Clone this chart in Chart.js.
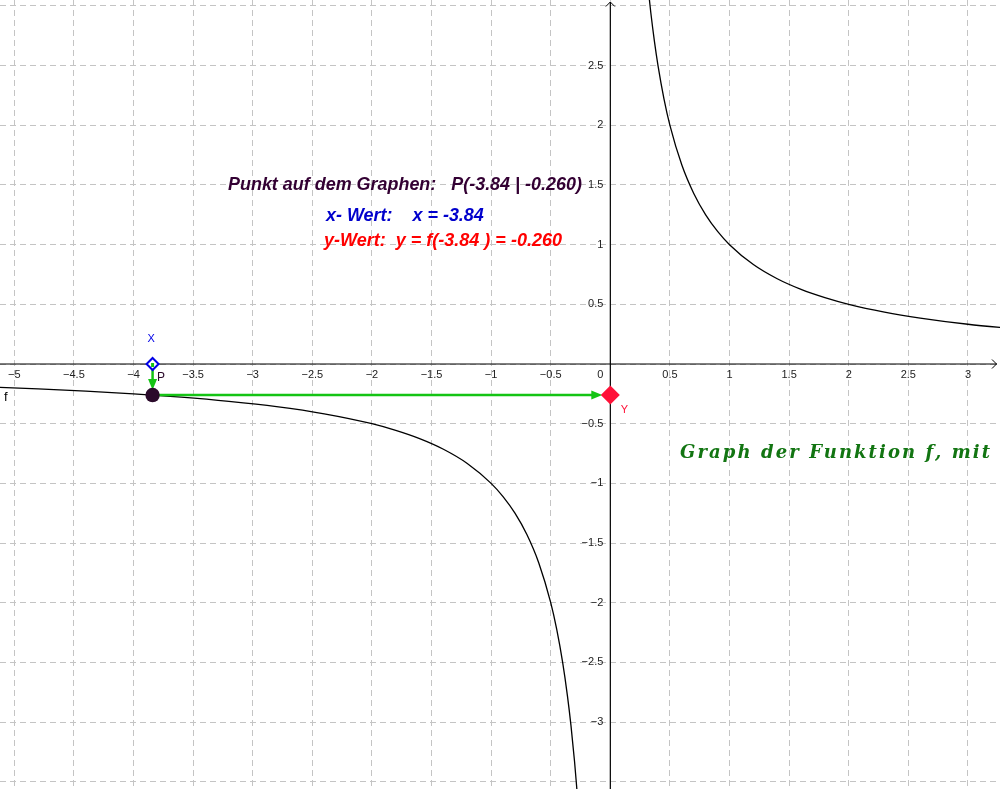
<!DOCTYPE html>
<html>
<head>
<meta charset="utf-8">
<script src="https://cdn.jsdelivr.net/npm/chart.js@4.4.1/dist/chart.umd.min.js"></script>
<style>
  html, body { margin: 0; padding: 0; background: #fff; overflow: hidden; }
  #wrap { width: 1000px; height: 789px; }
</style>
</head>
<body>
<div id="wrap"><canvas id="c" width="1000" height="789"></canvas></div>
<script>
// ---- view window ----
const xRange = [-5.120, 3.269];
const yRange = [-3.561, 3.050];

// ---- grid / tick values ----
const xTicks = [-5, -4.5, -4, -3.5, -3, -2.5, -2, -1.5, -1, -0.5, 0, 0.5, 1, 1.5, 2, 2.5, 3];
const yTicks = [-3.5, -3, -2.5, -2, -1.5, -1, -0.5, 0, 0.5, 1, 1.5, 2, 2.5, 3];
const xLabelValues = [-5, -4.5, -4, -3.5, -3, -2.5, -2, -1.5, -1, -0.5, 0.5, 1, 1.5, 2, 2.5, 3];
const xLabelTexts  = ['\u22125', '\u22124.5', '\u22124', '\u22123.5', '\u22123', '\u22122.5', '\u22122', '\u22121.5', '\u22121', '\u22120.5', '0.5', '1', '1.5', '2', '2.5', '3'];
const yLabelValues = [2.5, 2, 1.5, 1, 0.5, -0.5, -1, -1.5, -2, -2.5, -3];
const yLabelTexts  = ['2.5', '2', '1.5', '1', '0.5', '\u22120.5', '\u22121', '\u22121.5', '\u22122', '\u22122.5', '\u22123'];

// ---- graph f ----
const leftX  = [-5.2, -4.8, -4.4, -4.0, -3.6, -3.2, -2.8, -2.4, -2.0, -1.8, -1.6, -1.4, -1.2, -1.0, -0.9, -0.8, -0.7, -0.6, -0.5, -0.45, -0.4, -0.36, -0.33, -0.3, -0.28];
const leftY  = [-0.192, -0.208, -0.227, -0.25, -0.278, -0.313, -0.357, -0.417, -0.5, -0.556, -0.625, -0.714, -0.833, -1.0, -1.111, -1.25, -1.429, -1.667, -2.0, -2.222, -2.5, -2.778, -3.03, -3.333, -3.571];
const rightX = [0.32, 0.34, 0.37, 0.4, 0.45, 0.5, 0.6, 0.7, 0.8, 0.9, 1.0, 1.2, 1.4, 1.6, 1.8, 2.0, 2.3, 2.6, 3.0, 3.4];
const rightY = [3.125, 2.941, 2.703, 2.5, 2.222, 2.0, 1.667, 1.429, 1.25, 1.111, 1.0, 0.833, 0.714, 0.625, 0.556, 0.5, 0.435, 0.385, 0.333, 0.294];

// ---- point P on the graph ----
const pointX = -3.84;
const pointY = -0.260;

const texts = {
  title: 'Punkt auf dem Graphen:   P(-3.84 | -0.260)',
  xLine: 'x- Wert:    x = -3.84',
  yLine: 'y-Wert:  y = f(-3.84 ) = -0.260',
  green: 'Graph der Funktion f, mit'
};

function toPts(xs, ys) { return xs.map((x, i) => ({ x: x, y: ys[i] })); }

function drawFit(ctx, text, x, yc, targetW, style, family, color) {
  ctx.font = style + ' 100px ' + family;
  const w = ctx.measureText(text).width;
  const size = 100 * targetW / w;
  ctx.font = style + ' ' + size.toFixed(2) + 'px ' + family;
  ctx.fillStyle = color;
  ctx.textAlign = 'left';
  ctx.textBaseline = 'middle';
  ctx.fillText(text, x, yc);
}

function arrowHead(ctx, tipX, tipY, dx, dy, len, half, color) {
  const bx = tipX - dx * len, by = tipY - dy * len;
  ctx.beginPath();
  ctx.moveTo(tipX, tipY);
  ctx.lineTo(bx - dy * half, by + dx * half);
  ctx.lineTo(bx + dy * half, by - dx * half);
  ctx.closePath();
  ctx.fillStyle = color;
  ctx.fill();
}

const overlay = {
  id: 'overlay',
  afterDatasetsDraw(chart) {
    const ctx = chart.ctx;
    const xs = chart.scales.x, ys = chart.scales.y;
    const X0 = xs.getPixelForValue(0), Y0 = ys.getPixelForValue(0);
    const left = xs.getPixelForValue(xRange[0]), right = xs.getPixelForValue(xRange[1]);
    const top = ys.getPixelForValue(yRange[1]), bottom = ys.getPixelForValue(yRange[0]);
    ctx.save();

    // axes
    ctx.strokeStyle = '#000';
    ctx.lineWidth = 1.2;
    ctx.beginPath();
    ctx.moveTo(left, Y0); ctx.lineTo(right - 3, Y0);
    ctx.moveTo(X0, bottom); ctx.lineTo(X0, top + 2);
    ctx.stroke();
    ctx.lineWidth = 1;
    ctx.beginPath();
    ctx.moveTo(right - 8, Y0 - 4.5); ctx.lineTo(right - 3.5, Y0); ctx.lineTo(right - 8, Y0 + 4.5);
    ctx.moveTo(X0 - 4.5, top + 6.5); ctx.lineTo(X0, top + 2); ctx.lineTo(X0 + 4.5, top + 6.5);
    ctx.stroke();

    // tick labels
    ctx.font = '11px "Liberation Sans", Arial, sans-serif';
    ctx.fillStyle = '#222';
    ctx.textBaseline = 'middle';
    ctx.textAlign = 'center';
    xLabelValues.forEach((v, i) => {
      ctx.fillText(xLabelTexts[i], xs.getPixelForValue(v), Y0 + 11);
    });
    ctx.textAlign = 'right';
    ctx.fillText('0', X0 - 7, Y0 + 11);
    yLabelValues.forEach((v, i) => {
      ctx.fillText(yLabelTexts[i], X0 - 7, ys.getPixelForValue(v));
    });

    // label f
    ctx.textAlign = 'left';
    ctx.font = '13px "Liberation Sans", Arial, sans-serif';
    ctx.fillStyle = '#000';
    ctx.fillText('f', 4, ys.getPixelForValue(-0.28));

    const px = xs.getPixelForValue(pointX);
    const py = ys.getPixelForValue(pointY);
    const green = '#14c414';

    // vertical arrow X -> P
    ctx.strokeStyle = green;
    ctx.lineWidth = 2.5;
    ctx.beginPath();
    ctx.moveTo(px, Y0); ctx.lineTo(px, py - 12);
    ctx.stroke();
    arrowHead(ctx, px, py - 5, 0, 1, 11, 4.5, green);

    // horizontal arrow P -> Y
    ctx.beginPath();
    ctx.moveTo(px, py); ctx.lineTo(X0 - 16, py);
    ctx.stroke();
    arrowHead(ctx, X0 - 8, py, 1, 0, 11, 4.5, green);

    // X diamond (on x axis)
    ctx.beginPath();
    ctx.moveTo(px, Y0 - 6); ctx.lineTo(px + 6, Y0); ctx.lineTo(px, Y0 + 6); ctx.lineTo(px - 6, Y0); ctx.closePath();
    ctx.fillStyle = '#fff'; ctx.fill();
    ctx.strokeStyle = '#0000e6'; ctx.lineWidth = 2; ctx.stroke();
    ctx.fillStyle = green;
    ctx.fillRect(px - 1.5, Y0 - 1, 3, 4);

    // Y diamond (on y axis)
    ctx.beginPath();
    ctx.moveTo(X0, py - 9.5); ctx.lineTo(X0 + 9.5, py); ctx.lineTo(X0, py + 9.5); ctx.lineTo(X0 - 9.5, py); ctx.closePath();
    ctx.fillStyle = '#ff1238'; ctx.fill();

    // P point
    ctx.beginPath();
    ctx.arc(px, py, 7.2, 0, Math.PI * 2);
    ctx.fillStyle = '#2b0a2b'; ctx.fill();

    // point labels
    ctx.font = '11px "Liberation Sans", Arial, sans-serif';
    ctx.textAlign = 'center';
    ctx.fillStyle = '#0000e6';
    ctx.fillText('X', px - 1.5, Y0 - 25);
    ctx.fillStyle = '#ff1238';
    ctx.fillText('Y', X0 + 14, py + 15);
    ctx.font = '12px "Liberation Sans", Arial, sans-serif';
    ctx.fillStyle = '#2b0a2b';
    ctx.fillText('P', px + 8.5, py - 17);

    // text blocks
    drawFit(ctx, texts.title, 228, 185, 354, 'italic bold', '"Liberation Sans", Arial, sans-serif', '#330033');
    drawFit(ctx, texts.xLine, 326, 216.5, 158, 'italic bold', '"Liberation Sans", Arial, sans-serif', '#0000cc');
    drawFit(ctx, texts.yLine, 324, 241.5, 238, 'italic bold', '"Liberation Sans", Arial, sans-serif', '#ff0000');

    // green serif text, letter-spaced to its width
    ctx.font = 'italic bold 18px "DejaVu Serif", "Liberation Serif", serif';
    ctx.fillStyle = '#127512';
    ctx.textAlign = 'left';
    ctx.textBaseline = 'alphabetic';
    const gw = ctx.measureText(texts.green).width;
    const n = texts.green.length;
    ctx.letterSpacing = Math.max(0, (310 - gw) / (n - 1)).toFixed(2) + 'px';
    ctx.fillText(texts.green, 680, 458);
    ctx.letterSpacing = '0px';

    ctx.restore();
  }
};

function gridScale(ticks, range) {
  return {
    type: 'linear',
    min: range[0],
    max: range[1],
    display: true,
    afterBuildTicks: (axis) => { axis.ticks = ticks.map(v => ({ value: v })); },
    ticks: { display: false },
    grid: { color: '#c4c4c4', lineWidth: 1, drawTicks: false },
    border: { display: false, dash: [6, 4] }
  };
}

new Chart(document.getElementById('c'), {
  type: 'scatter',
  data: {
    datasets: [
      { data: toPts(leftX, leftY), showLine: true, borderColor: '#000', borderWidth: 1.3, pointRadius: 0, cubicInterpolationMode: 'monotone', fill: false },
      { data: toPts(rightX, rightY), showLine: true, borderColor: '#000', borderWidth: 1.3, pointRadius: 0, cubicInterpolationMode: 'monotone', fill: false }
    ]
  },
  options: {
    responsive: false,
    animation: false,
    layout: { padding: 0 },
    plugins: { legend: { display: false }, tooltip: { enabled: false }, title: { display: false } },
    scales: {
      x: gridScale(xTicks, xRange),
      y: gridScale(yTicks, yRange)
    }
  },
  plugins: [overlay]
});
</script>
</body>
</html>
